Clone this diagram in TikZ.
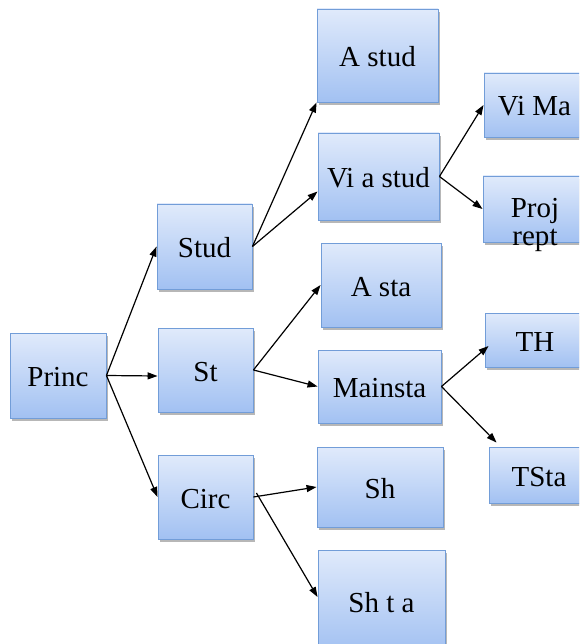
\documentclass[tikz,border=0pt]{standalone}
\usepackage{fontspec}
\setmainfont{Liberation Serif}
\usetikzlibrary{arrows.meta}
\usetikzlibrary{shadows}
\usetikzlibrary{calc}
\definecolor{boxtop}{HTML}{E0EAFB}
\definecolor{boxbottom}{HTML}{A2C1F2}
\definecolor{boxline}{HTML}{729DD8}

\begin{document}
\begin{tikzpicture}[x=1pt,y=-1pt,->,>={Triangle[length=10pt,width=7pt]},line width=1.2pt,
    box node/.style={rectangle,draw=boxline,line width=0.9pt,top color=boxtop,bottom color=boxbottom,
      drop shadow={shadow xshift=2pt,shadow yshift=-3pt,fill=black!40,opacity=0.7},
      inner sep=0pt,text height=22pt,text depth=0pt,font=\fontsize{29}{31}\selectfont}]
    \clip (0,0) rectangle (579,644);
    % first level
    \node[box node,minimum width=96,minimum height=85] (princ) at (58,375.5) {Princ};
    % second level
    \node[box node,minimum width=95,minimum height=85] (stud) at (204.5,246.5) {Stud};
    \node[box node,minimum width=95,minimum height=84] (st) at (205.5,370) {St};
    \node[box node,minimum width=95,minimum height=84] (circ) at (205.5,497) {Circ};
    % third level
    \node[box node,minimum width=121,minimum height=93] (astud) at (377.5,55.5) {A stud};
    \node[box node,minimum width=121,minimum height=87] (viastud) at (378.5,176.5) {Vi a stud};
    \node[box node,minimum width=120,minimum height=84] (asta) at (381,285) {A sta};
    \node[box node,minimum width=123,minimum height=73] (mainsta) at (379.5,386.5) {Mainsta};
    \node[box node,minimum width=126,minimum height=80] (sh) at (380,487) {Sh};
    \node[box node,minimum width=127,minimum height=102] (shta) at (381.5,601) {Sh t a};
    % fourth level
    \node[box node,minimum width=101,minimum height=64] (vima) at (534.5,105) {Vi Ma};
    \node[box node,minimum width=104,minimum height=66] (projrept) at (535,209)
      {\raisebox{-25pt}{\shortstack{Proj\\[2pt]rept}}};
    \node[box node,minimum width=100,minimum height=54] (th) at (535,340) {TH};
    \node[box node,minimum width=100,minimum height=56] (tsta) at (539,475) {TSta};
    % connectors
    \path (princ.east) edge (stud.west);
    \path (princ.east) edge ($(st.west)+(0,6)$);
    \path (princ.east) edge (circ.west);
    \path (stud.east) edge (astud.south west);
    \path (stud.east) edge ($(viastud.west)+(0,15)$);
    \path (viastud.east) edge (vima.west);
    \path (viastud.east) edge (projrept.west);
    \path (st.east) edge (asta.west);
    \path (st.east) edge (mainsta.west);
    \path (mainsta.east) edge ($(th.west)+(4,6)$);
    \path (mainsta.east) edge ($(tsta.north west)+(8,-4)$);
    \path (circ.east) edge (sh.west);
    \path ($(circ.east)+(3,-4)$) edge ($(shta.west)+(0,-4)$);
\end{tikzpicture}
\end{document}
